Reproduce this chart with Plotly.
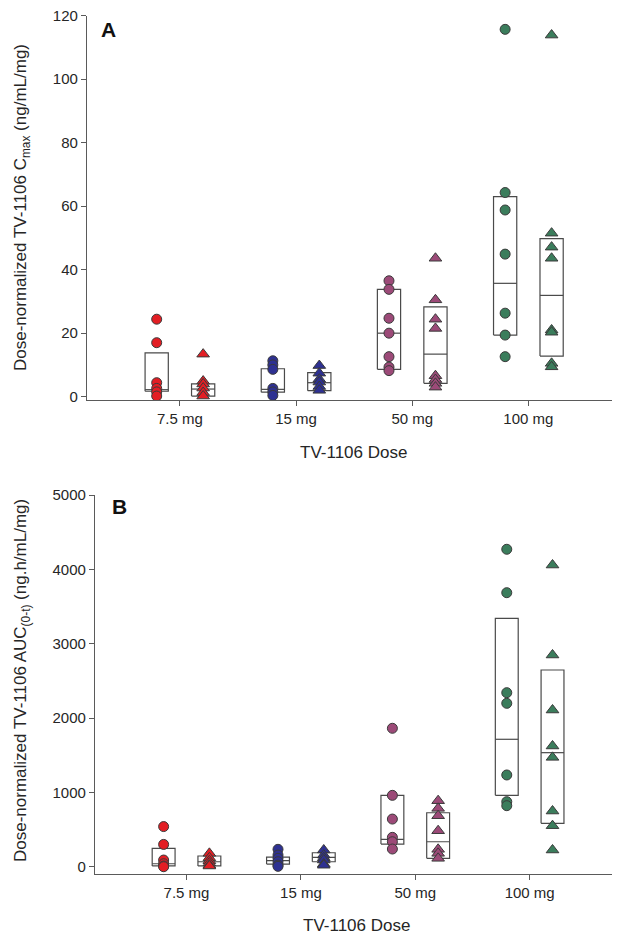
import plotly.graph_objects as go

# ---------------- data ----------------
categories = ["7.5 mg", "15 mg", "50 mg", "100 mg"]
colors = ["#e31e24", "#2e3192", "#9c4a78", "#3b7d5c"]

# Panel A: dose-normalized Cmax (ng/mL/mg)
a_circles = [
    [24.4, 17.0, 4.4, 2.6, 1.5, 0.2],
    [11.3, 10.0, 8.6, 2.6, 1.5, 0.4],
    [36.5, 33.8, 24.7, 20.0, 12.6, 9.3, 8.2],
    [115.7, 64.3, 58.8, 44.9, 26.3, 19.4, 12.6],
]
a_triangles = [
    [13.4, 4.9, 4.0, 2.7, 1.3, 0.2],
    [9.8, 7.4, 5.5, 4.6, 3.2, 2.0],
    [43.6, 30.5, 24.4, 21.5, 6.6, 5.4, 4.2, 3.0],
    [113.9, 51.5, 47.1, 43.6, 21.0, 20.3, 10.5, 9.4],
]
a_circ_q1 = [1.7, 1.4, 8.6, 19.4]
a_circ_med = [2.2, 2.3, 20.0, 35.7]
a_circ_q3 = [13.8, 8.8, 33.8, 63.0]
a_tri_q1 = [0.2, 1.9, 4.2, 12.8]
a_tri_med = [2.4, 4.4, 13.4, 31.9]
a_tri_q3 = [4.0, 7.6, 28.3, 49.8]

# Panel B: dose-normalized AUC(0-t) (ng.h/mL/mg)
b_circles = [
    [540, 300, 90, 40, 10, 0],
    [234, 157, 113, 67, 22, 5],
    [1862, 960, 641, 395, 336, 238],
    [4270, 3686, 2341, 2198, 1234, 875, 821],
]
b_triangles = [
    [180, 120, 80, 50, 20, 10],
    [225, 157, 120, 90, 36, 20],
    [888, 785, 686, 484, 234, 180, 113],
    [4058, 2848, 2108, 1624, 1471, 749, 552, 225],
]
b_circ_q1 = [10, 36, 305, 960]
b_circ_med = [40, 81, 368, 1714]
b_circ_q3 = [247, 130, 960, 3341]
b_tri_q1 = [10, 67, 113, 584]
b_tri_med = [67, 126, 336, 1534]
b_tri_q3 = [144, 188, 726, 2646]

# ---------------- styling ----------------
FONT = "Liberation Sans, Arial, sans-serif"
TXT = "#262626"
AXC = "#5a5a5a"
OFF = 0.2      # offset of circle / triangle groups from category centre
HALF = 0.1     # half width of box
MSIZE = 10

fig = go.Figure()


def add_panel(circles, triangles, cq1, cmed, cq3, tq1, tmed, tq3, xa, ya):
    # box outlines (behind markers)
    bx, by = [], []
    for i in range(len(categories)):
        c = i + 1
        for side, q1, md, q3 in ((-OFF, cq1[i], cmed[i], cq3[i]), (OFF, tq1[i], tmed[i], tq3[i])):
            x0, x1 = c + side - HALF, c + side + HALF
            bx += [x0, x1, x1, x0, x0, None, x0, x1, None]
            by += [q1, q1, q3, q3, q1, None, md, md, None]
    fig.add_trace(go.Scatter(x=bx, y=by, mode="lines", xaxis=xa, yaxis=ya,
                             line=dict(color="#4a4a4a", width=1.2),
                             showlegend=False, hoverinfo="skip"))
    for i in range(len(categories)):
        c = i + 1
        fig.add_trace(go.Scatter(
            x=[c - OFF] * len(circles[i]), y=circles[i], mode="markers",
            xaxis=xa, yaxis=ya, showlegend=False,
            marker=dict(symbol="circle", size=MSIZE, color=colors[i],
                        line=dict(color="#3a3a3a", width=1))))
        fig.add_trace(go.Scatter(
            x=[c + OFF] * len(triangles[i]), y=triangles[i], mode="markers",
            xaxis=xa, yaxis=ya, showlegend=False,
            marker=dict(symbol="triangle-up", size=MSIZE + 1, color=colors[i],
                        line=dict(color="#3a3a3a", width=1))))


add_panel(a_circles, a_triangles, a_circ_q1, a_circ_med, a_circ_q3,
          a_tri_q1, a_tri_med, a_tri_q3, "x", "y")
add_panel(b_circles, b_triangles, b_circ_q1, b_circ_med, b_circ_q3,
          b_tri_q1, b_tri_med, b_tri_q3, "x2", "y2")

W, H = 617, 936

xcommon = dict(
    tickmode="array", tickvals=[1, 2, 3, 4], ticktext=categories,
    range=[0.2, 4.72], showline=True, linecolor=AXC, linewidth=1.3,
    ticks="outside", ticklen=5, tickcolor=AXC, tickwidth=1.2,
    showgrid=False, zeroline=False, automargin=False,
    tickfont=dict(family=FONT, size=15, color=TXT),
)
ycommon = dict(
    showline=True, linecolor=AXC, linewidth=1.3,
    ticks="outside", ticklen=5, tickcolor=AXC, tickwidth=1.2,
    showgrid=False, zeroline=False, automargin=False,
    tickfont=dict(family=FONT, size=15, color=TXT),
)

fig.update_layout(
    width=W, height=H,
    margin=dict(l=0, r=0, t=0, b=0),
    paper_bgcolor="white", plot_bgcolor="white",
    xaxis=dict(xcommon, domain=[87 / W, 612 / W], anchor="y"),
    yaxis=dict(ycommon, domain=[1 - 400 / H, 1 - 15.7 / H], anchor="x",
               range=[-1.05, 120], tickvals=[0, 20, 40, 60, 80, 100, 120]),
    xaxis2=dict(xcommon, domain=[95 / W, 612 / W], anchor="y2"),
    yaxis2=dict(ycommon, domain=[1 - 874.3 / H, 1 - 495 / H], anchor="x2",
                range=[-102, 5000], tickvals=[0, 1000, 2000, 3000, 4000, 5000]),
    annotations=[
        dict(text="Dose-normalized TV-1106 C<sub>max</sub> (ng/mL/mg)",
             x=22 / W, y=1 - 208 / H, xref="paper", yref="paper",
             textangle=-90, showarrow=False, xanchor="center", yanchor="middle",
             font=dict(family=FONT, size=17, color=TXT)),
        dict(text="Dose-normalized TV-1106 AUC<sub>(0-t)</sub> (ng.h/mL/mg)",
             x=22 / W, y=1 - 681 / H, xref="paper", yref="paper",
             textangle=-90, showarrow=False, xanchor="center", yanchor="middle",
             font=dict(family=FONT, size=17, color=TXT)),
        dict(text="TV-1106 Dose", x=353 / W, y=1 - 452 / H,
             xref="paper", yref="paper", showarrow=False,
             xanchor="center", yanchor="middle",
             font=dict(family=FONT, size=17, color=TXT)),
        dict(text="TV-1106 Dose", x=356 / W, y=1 - 925 / H,
             xref="paper", yref="paper", showarrow=False,
             xanchor="center", yanchor="middle",
             font=dict(family=FONT, size=17, color=TXT)),
        dict(text="<b>A</b>", x=99 / W, y=1 - 30 / H,
             xref="paper", yref="paper", showarrow=False,
             xanchor="left", yanchor="middle",
             font=dict(family=FONT, size=21, color="#111")),
        dict(text="<b>B</b>", x=110 / W, y=1 - 507 / H,
             xref="paper", yref="paper", showarrow=False,
             xanchor="left", yanchor="middle",
             font=dict(family=FONT, size=21, color="#111")),
    ],
)

fig.write_html("out.html")
